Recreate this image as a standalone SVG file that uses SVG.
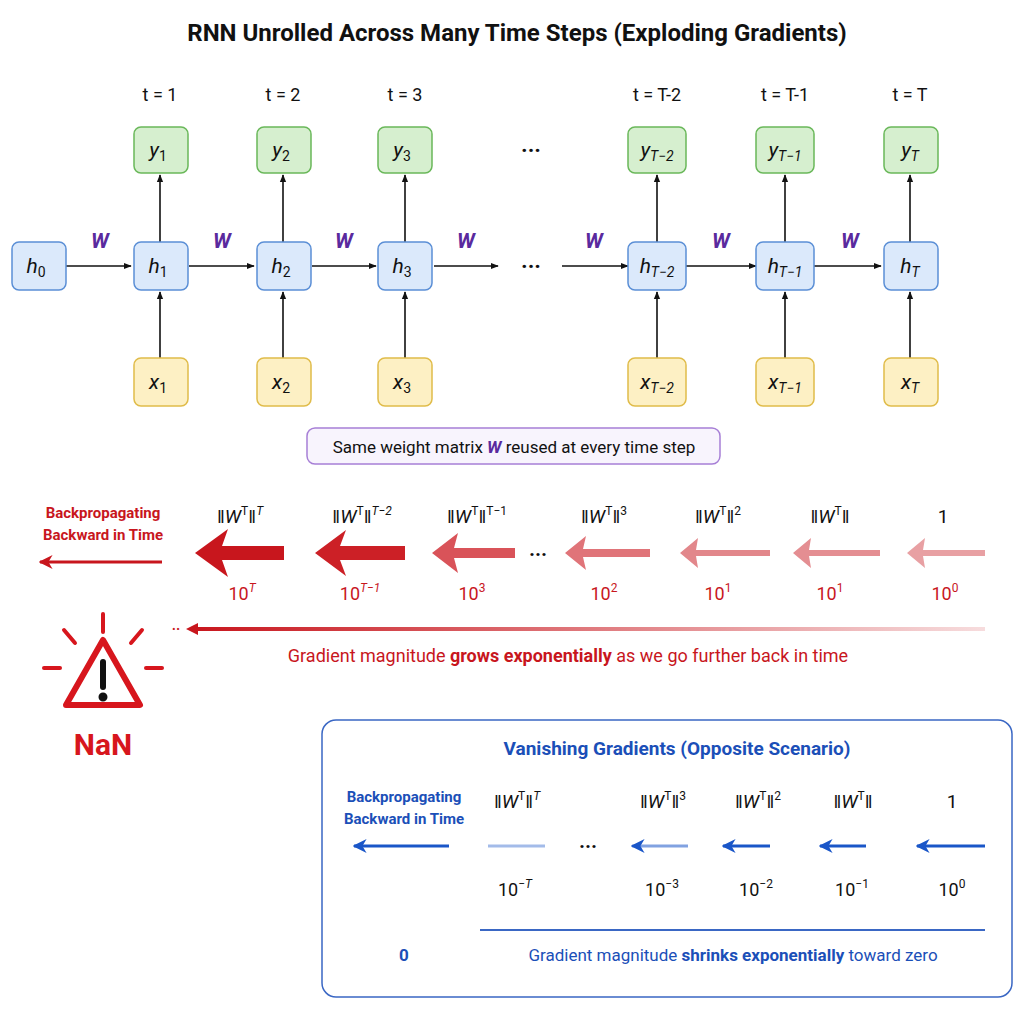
<svg xmlns="http://www.w3.org/2000/svg" width="1024" height="1024" viewBox="0 0 1024 1024">
<defs>
<style>
text{font-family:Roboto,"Liberation Sans",sans-serif;}
.t{font-size:18px;fill:#111;text-anchor:middle}
.lbl{font-size:21px;font-style:italic;text-anchor:middle;fill:#111}
.h rect{fill:#dbe9fb;stroke:#5b8fd6;stroke-width:1.5}
.y rect{fill:#d6efcf;stroke:#6ab85a;stroke-width:1.5}
.x rect{fill:#fdf0c4;stroke:#e0bc4a;stroke-width:1.5}
.w{font-size:21px;font-weight:bold;font-style:italic;fill:#5a2a9e;text-anchor:middle}
.c line{stroke:#111;stroke-width:1.6}
.rt{fill:#c8161d;text-anchor:middle}
.bt{fill:#1b4fb8;text-anchor:middle}
.m{font-size:19px;fill:#111;text-anchor:middle}
</style>
<marker id="ah" viewBox="0 0 10 10" refX="9" refY="5" markerWidth="8" markerHeight="8" orient="auto-start-reverse" markerUnits="userSpaceOnUse"><path d="M0,1L10,5L0,9z" fill="#111"/></marker>
<marker id="ab" viewBox="0 0 10 10" refX="9" refY="5" markerWidth="14" markerHeight="14" orient="auto" markerUnits="userSpaceOnUse"><path d="M0,0L10,5L0,10L3,5z" fill="#1a56c8"/></marker>
<marker id="ar" viewBox="0 0 10 10" refX="9" refY="5" markerWidth="14" markerHeight="14" orient="auto" markerUnits="userSpaceOnUse"><path d="M0,0L10,5L0,10L3,5z" fill="#c8161d"/></marker>
<linearGradient id="lg" x1="0" x2="1"><stop offset="0" stop-color="#c8161d"/><stop offset="1" stop-color="#c8161d" stop-opacity="0.15"/></linearGradient>
</defs>
<rect width="1024" height="1024" fill="#fff"/>
<text x="517" y="41" font-size="24" font-weight="bold" text-anchor="middle" fill="#111">RNN Unrolled Across Many Time Steps (Exploding Gradients)</text>
<g class="t-labels">
<text class="t" x="160" y="101">t = 1</text><text class="t" x="283" y="101">t = 2</text><text class="t" x="405" y="101">t = 3</text>
<text class="t" x="657" y="101">t = T-2</text><text class="t" x="785" y="101">t = T-1</text><text class="t" x="910" y="101">t = T</text>
</g>
<g id="connectors" class="c">
<line x1="66" y1="266" x2="131" y2="266" marker-end="url(#ah)"/>
<line x1="189" y1="266" x2="254" y2="266" marker-end="url(#ah)"/>
<line x1="312" y1="266" x2="376" y2="266" marker-end="url(#ah)"/>
<line x1="434" y1="266" x2="498" y2="266" marker-end="url(#ah)"/>
<line x1="562" y1="266" x2="628" y2="266" marker-end="url(#ah)"/>
<line x1="686" y1="266" x2="756" y2="266" marker-end="url(#ah)"/>
<line x1="814" y1="266" x2="881" y2="266" marker-end="url(#ah)"/>
<line x1="160" y1="242" x2="160" y2="175" marker-end="url(#ah)"/>
<line x1="283" y1="242" x2="283" y2="175" marker-end="url(#ah)"/>
<line x1="405" y1="242" x2="405" y2="175" marker-end="url(#ah)"/>
<line x1="657" y1="242" x2="657" y2="175" marker-end="url(#ah)"/>
<line x1="785" y1="242" x2="785" y2="175" marker-end="url(#ah)"/>
<line x1="910" y1="242" x2="910" y2="175" marker-end="url(#ah)"/>
<line x1="160" y1="358" x2="160" y2="292" marker-end="url(#ah)"/>
<line x1="283" y1="358" x2="283" y2="292" marker-end="url(#ah)"/>
<line x1="405" y1="358" x2="405" y2="292" marker-end="url(#ah)"/>
<line x1="657" y1="358" x2="657" y2="292" marker-end="url(#ah)"/>
<line x1="785" y1="358" x2="785" y2="292" marker-end="url(#ah)"/>
<line x1="910" y1="358" x2="910" y2="292" marker-end="url(#ah)"/>
</g>
<g class="wl">
<text class="w" x="100" y="248">W</text><text class="w" x="222" y="248">W</text><text class="w" x="344" y="248">W</text><text class="w" x="466" y="248">W</text>
<text class="w" x="594" y="248">W</text><text class="w" x="721" y="248">W</text><text class="w" x="850" y="248">W</text>
</g>
<text x="531" y="158" font-size="22" font-weight="bold" text-anchor="middle" fill="#111">···</text>
<text x="531" y="274" font-size="22" font-weight="bold" text-anchor="middle" fill="#111">···</text>
<g id="h0" class="h"><rect x="12" y="242" width="54" height="48" rx="7"/><text class="lbl" x="36" y="273">h<tspan font-size="14" font-style="normal" dy="4">0</tspan></text></g>
<g id="h1" class="h"><rect x="134" y="242" width="54" height="48" rx="7"/><text class="lbl" x="158" y="273">h<tspan font-size="14" font-style="normal" dy="4">1</tspan></text></g>
<g id="h2" class="h"><rect x="257" y="242" width="54" height="48" rx="7"/><text class="lbl" x="281" y="273">h<tspan font-size="14" font-style="normal" dy="4">2</tspan></text></g>
<g id="h3" class="h"><rect x="378" y="242" width="54" height="48" rx="7"/><text class="lbl" x="402" y="273">h<tspan font-size="14" font-style="normal" dy="4">3</tspan></text></g>
<g id="hT2" class="h"><rect x="628" y="242" width="58" height="48" rx="7"/><text class="lbl" x="657" y="273">h<tspan font-size="14" dy="4">T−2</tspan></text></g>
<g id="hT1" class="h"><rect x="756" y="242" width="58" height="48" rx="7"/><text class="lbl" x="785" y="273">h<tspan font-size="14" dy="4">T−1</tspan></text></g>
<g id="hT" class="h"><rect x="884" y="242" width="54" height="48" rx="7"/><text class="lbl" x="910" y="273">h<tspan font-size="14" dy="4">T</tspan></text></g>
<g id="y1" class="y"><rect x="134" y="127" width="54" height="46" rx="7"/><text class="lbl" x="158" y="157">y<tspan font-size="14" font-style="normal" dy="4">1</tspan></text></g>
<g id="y2" class="y"><rect x="257" y="127" width="54" height="46" rx="7"/><text class="lbl" x="281" y="157">y<tspan font-size="14" font-style="normal" dy="4">2</tspan></text></g>
<g id="y3" class="y"><rect x="378" y="127" width="54" height="46" rx="7"/><text class="lbl" x="402" y="157">y<tspan font-size="14" font-style="normal" dy="4">3</tspan></text></g>
<g id="yT2" class="y"><rect x="628" y="127" width="58" height="46" rx="7"/><text class="lbl" x="657" y="157">y<tspan font-size="14" dy="4">T−2</tspan></text></g>
<g id="yT1" class="y"><rect x="756" y="127" width="58" height="46" rx="7"/><text class="lbl" x="785" y="157">y<tspan font-size="14" dy="4">T−1</tspan></text></g>
<g id="yT" class="y"><rect x="884" y="127" width="54" height="46" rx="7"/><text class="lbl" x="910" y="157">y<tspan font-size="14" dy="4">T</tspan></text></g>
<g id="x1" class="x"><rect x="134" y="358" width="54" height="48" rx="7"/><text class="lbl" x="158" y="389">x<tspan font-size="14" font-style="normal" dy="4">1</tspan></text></g>
<g id="x2" class="x"><rect x="257" y="358" width="54" height="48" rx="7"/><text class="lbl" x="281" y="389">x<tspan font-size="14" font-style="normal" dy="4">2</tspan></text></g>
<g id="x3" class="x"><rect x="378" y="358" width="54" height="48" rx="7"/><text class="lbl" x="402" y="389">x<tspan font-size="14" font-style="normal" dy="4">3</tspan></text></g>
<g id="xT2" class="x"><rect x="628" y="358" width="58" height="48" rx="7"/><text class="lbl" x="657" y="389">x<tspan font-size="14" dy="4">T−2</tspan></text></g>
<g id="xT1" class="x"><rect x="756" y="358" width="58" height="48" rx="7"/><text class="lbl" x="785" y="389">x<tspan font-size="14" dy="4">T−1</tspan></text></g>
<g id="xT" class="x"><rect x="884" y="358" width="54" height="48" rx="7"/><text class="lbl" x="910" y="389">x<tspan font-size="14" dy="4">T</tspan></text></g>
<g id="note"><rect x="307" y="428" width="413" height="36" rx="8" fill="#f8f4fd" stroke="#a77fd6" stroke-width="1.5"/>
<text x="514" y="453" font-size="17" text-anchor="middle" fill="#111">Same weight matrix <tspan font-weight="bold" font-style="italic" fill="#5a2a9e">W</tspan> reused at every time step</text></g>
<g id="exploding">
<text class="rt" x="103" y="518" font-size="15" font-weight="bold">Backpropagating</text>
<text class="rt" x="103" y="540" font-size="15" font-weight="bold">Backward in Time</text>
<line x1="162" y1="562" x2="40" y2="562" stroke="#c8161d" stroke-width="3" marker-end="url(#ar)"/>
<polygon points="195,553 228,529 222,546 284,546 284,560 222,560 228,577" fill="#c8161d"/>
<polygon points="315,553 346,530 340,546 405,546 405,560 340,560 346,576" fill="#cc2026"/>
<polygon points="432,553 458,533 454,548 515,548 515,558 454,558 458,573" fill="#d74a50" opacity="0.95"/>
<polygon points="565,553 586,536 583,549 650,549 650,557 583,557 586,570" fill="#e07479"/>
<polygon points="680,553 698,538 696,550 770,550 770,556 696,556 698,568" fill="#e2878b"/>
<polygon points="793,553 811,538 809,550 880,550 880,556 809,556 811,568" fill="#e48e92"/>
<polygon points="907,553 925,538 923,550 985,550 985,556 923,556 925,568" fill="#e8a0a3"/>
<text x="538" y="561" font-size="20" font-weight="bold" text-anchor="middle" fill="#111">···</text>
<text class="m" x="240" y="523">‖<tspan font-style="italic">W</tspan><tspan font-size="12" dy="-8">T</tspan><tspan dy="8">‖</tspan><tspan font-size="12" font-style="italic" dy="-8">T</tspan></text>
<text class="m" x="362" y="523">‖<tspan font-style="italic">W</tspan><tspan font-size="12" dy="-8">T</tspan><tspan dy="8">‖</tspan><tspan font-size="12" font-style="italic" dy="-8">T−2</tspan></text>
<text class="m" x="477" y="523">‖<tspan font-style="italic">W</tspan><tspan font-size="12" dy="-8">T</tspan><tspan dy="8">‖</tspan><tspan font-size="12" dy="-8">T−1</tspan></text>
<text class="m" x="604" y="523">‖<tspan font-style="italic">W</tspan><tspan font-size="12" dy="-8">T</tspan><tspan dy="8">‖</tspan><tspan font-size="12" dy="-8">3</tspan></text>
<text class="m" x="718" y="523">‖<tspan font-style="italic">W</tspan><tspan font-size="12" dy="-8">T</tspan><tspan dy="8">‖</tspan><tspan font-size="12" dy="-8">2</tspan></text>
<text class="m" x="830" y="523">‖<tspan font-style="italic">W</tspan><tspan font-size="12" dy="-8">T</tspan><tspan dy="8">‖</tspan></text>
<text class="m" x="943" y="523">1</text>
<g font-size="18" fill="#c8161d" text-anchor="middle">
<text x="242" y="600">10<tspan font-size="12" font-style="italic" dy="-8">T</tspan></text>
<text x="360" y="600">10<tspan font-size="12" font-style="italic" dy="-8">T−1</tspan></text>
<text x="472" y="600">10<tspan font-size="12" dy="-8">3</tspan></text>
<text x="604" y="600">10<tspan font-size="12" dy="-8">2</tspan></text>
<text x="718" y="600">10<tspan font-size="12" dy="-8">1</tspan></text>
<text x="830" y="600">10<tspan font-size="12" dy="-8">1</tspan></text>
<text x="945" y="600">10<tspan font-size="12" dy="-8">0</tspan></text>
</g>
<rect x="192" y="627" width="793" height="4" fill="url(#lg)"/>
<path d="M186,629L198,623L198,635z" fill="#c8161d"/>
<text x="176" y="634" font-size="14" font-weight="bold" fill="#c8161d" text-anchor="middle">··</text>
<text x="568" y="662" font-size="18" fill="#c8161d" text-anchor="middle">Gradient magnitude <tspan font-weight="bold">grows exponentially</tspan> as we go further back in time</text>
</g>
<g id="warning" stroke="#d7161d" stroke-width="4" stroke-linecap="round" fill="none">
<line x1="103" y1="614" x2="103" y2="632"/>
<line x1="64" y1="630" x2="75" y2="643"/>
<line x1="142" y1="630" x2="131" y2="643"/>
<line x1="44" y1="668" x2="60" y2="668"/>
<line x1="146" y1="668" x2="162" y2="668"/>
<path d="M103,640L140,705L66,705z" stroke-linejoin="round" stroke-width="6"/>
<line x1="103" y1="662" x2="103" y2="687" stroke="#111" stroke-width="6"/>
<circle cx="103" cy="697" r="2.5" fill="#111" stroke="#111"/>
</g>
<text x="103" y="755" font-size="30" font-weight="bold" fill="#d7161d" text-anchor="middle">NaN</text>
<g id="vanishing">
<rect x="322" y="720" width="690" height="277" rx="14" fill="#fff" stroke="#3a67c4" stroke-width="1.5"/>
<text class="bt" x="677" y="755" font-size="19" font-weight="bold">Vanishing Gradients (Opposite Scenario)</text>
<text class="bt" x="404" y="802" font-size="15" font-weight="bold">Backpropagating</text>
<text class="bt" x="404" y="824" font-size="15" font-weight="bold">Backward in Time</text>
<line x1="449" y1="846" x2="354" y2="846" stroke="#1a56c8" stroke-width="3" marker-end="url(#ab)"/>
<line x1="545" y1="846" x2="488" y2="846" stroke="#1a56c8" stroke-opacity="0.4" stroke-width="3"/>
<line x1="688" y1="846" x2="632" y2="846" stroke="#1a56c8" stroke-opacity="0.55" stroke-width="3" marker-end="url(#ab)"/>
<line x1="770" y1="846" x2="723" y2="846" stroke="#1a56c8" stroke-width="3" marker-end="url(#ab)"/>
<line x1="866" y1="846" x2="820" y2="846" stroke="#1a56c8" stroke-width="3" marker-end="url(#ab)"/>
<line x1="985" y1="846" x2="917" y2="846" stroke="#1a56c8" stroke-width="3" marker-end="url(#ab)"/>
<text x="588" y="853" font-size="20" font-weight="bold" text-anchor="middle" fill="#111">···</text>
<text class="m" x="517" y="808">‖<tspan font-style="italic">W</tspan><tspan font-size="12" dy="-8">T</tspan><tspan dy="8">‖</tspan><tspan font-size="12" font-style="italic" dy="-8">T</tspan></text>
<text class="m" x="663" y="808">‖<tspan font-style="italic">W</tspan><tspan font-size="12" dy="-8">T</tspan><tspan dy="8">‖</tspan><tspan font-size="12" dy="-8">3</tspan></text>
<text class="m" x="758" y="808">‖<tspan font-style="italic">W</tspan><tspan font-size="12" dy="-8">T</tspan><tspan dy="8">‖</tspan><tspan font-size="12" dy="-8">2</tspan></text>
<text class="m" x="853" y="808">‖<tspan font-style="italic">W</tspan><tspan font-size="12" dy="-8">T</tspan><tspan dy="8">‖</tspan></text>
<text class="m" x="952" y="808">1</text>
<g font-size="18" fill="#111" text-anchor="middle">
<text x="515" y="896">10<tspan font-size="12" dy="-8">−<tspan font-style="italic">T</tspan></tspan></text>
<text x="662" y="896">10<tspan font-size="12" dy="-8">−3</tspan></text>
<text x="756" y="896">10<tspan font-size="12" dy="-8">−2</tspan></text>
<text x="852" y="896">10<tspan font-size="12" dy="-8">−1</tspan></text>
<text x="952" y="896">10<tspan font-size="12" dy="-8">0</tspan></text>
</g>
<line x1="480" y1="930" x2="985" y2="930" stroke="#3a67c4" stroke-width="2"/>
<text class="bt" x="404" y="961" font-size="17" font-weight="bold">0</text>
<text class="bt" x="733" y="961" font-size="17">Gradient magnitude <tspan font-weight="bold">shrinks exponentially</tspan> toward zero</text>
</g>
</svg>
